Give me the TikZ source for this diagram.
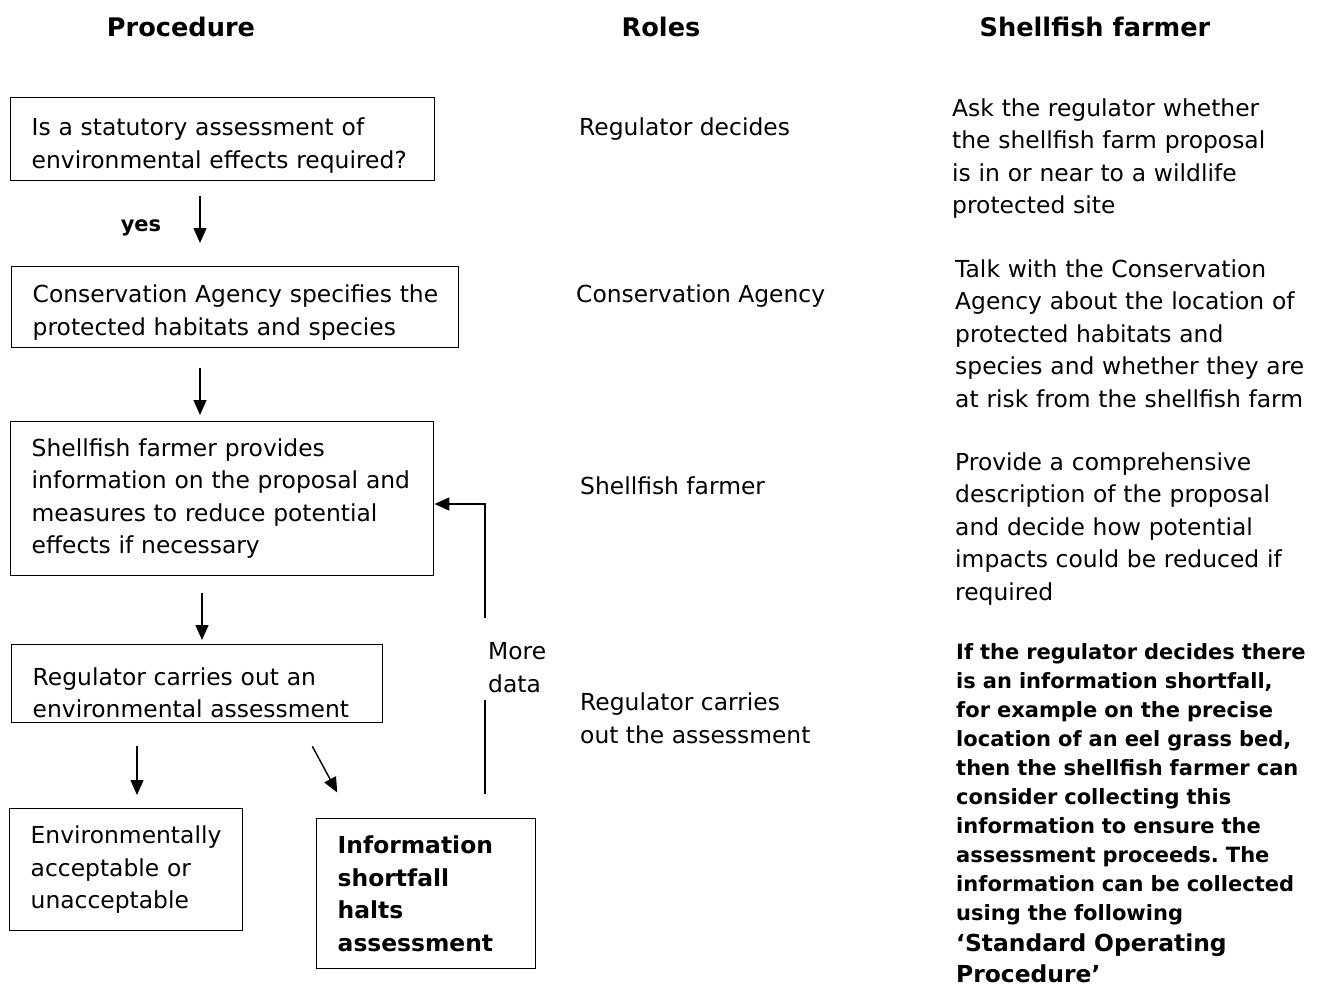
\documentclass[tikz,border=0pt]{standalone}
\usepackage{fontspec}
\setmainfont{DejaVu Sans}
\usetikzlibrary{arrows.meta}
\frenchspacing
\newcommand{\bodysize}{\fontsize{23.4}{32.5}\selectfont}
\newcommand{\notesize}{\fontsize{21}{29}\selectfont}
\newcommand{\headsize}{\fontsize{25.6}{30}\selectfont}
\newcommand{\padtop}[1]{\rule{0pt}{#1}}

\begin{document}
\begin{tikzpicture}[x=1pt, y=-1pt,
    procbox/.style 2 args={draw, line width=1.4pt, anchor=north west, align=left,
        inner xsep=21pt, inner ysep=0pt, font=\bodysize, text width=#1, minimum height=#2},
    head/.style={anchor=base, font=\headsize\bfseries},
    role/.style={anchor=base west, align=left, font=\bodysize, inner sep=0pt},
    note/.style={anchor=base west, align=left, text width=368pt, inner sep=0pt},
    arr/.style={line width=1.4pt, -{Triangle[length=15pt, width=13pt]}}]

    \useasboundingbox (0,0) rectangle (1324,986);

    % Column headings
    \node[head] (hProc) at (181,36) {Procedure};
    \node[head] (hRole) at (661,36) {Roles};
    \node[head] (hFarm) at (1095,36) {Shellfish farmer};

    % Procedure boxes
    \node[procbox={382pt}{83pt}] (isreq) at (10,97)
        {\padtop{30pt}Is a statutory assessment of\\environmental effects required?};
    \node[procbox={405pt}{81pt}] (agency) at (11,266)
        {\padtop{28pt}\mbox{Conservation Agency specifies the}\\protected habitats and species};
    \node[procbox={381pt}{154pt}] (provide) at (10,421)
        {Shellfish farmer provides\\information on the proposal and\\measures to reduce potential\\effects if necessary};
    \node[procbox={329pt}{78pt}] (assess) at (11,644)
        {\padtop{36pt}Regulator carries out an\\environmental assessment};
    \node[procbox={191pt}{122pt}] (accept) at (9,808)
        {Environmentally\\acceptable or\\unacceptable};
    \node[procbox={177pt}{150pt}, font=\bodysize\bfseries] (short) at (316,818)
        {Information\\shortfall\\halts\\assessment};

    % Arrows between the boxes
    \draw[arr, shorten <=15pt, shorten >=23pt] (isreq.south -| 200,0) -- (agency.north -| 200,0);
    \node[anchor=base, font=\notesize\bfseries] (yes) at (141,231) {yes};
    \draw[arr, shorten <=20pt, shorten >=6pt] (agency.south -| 200,0) -- (provide.north -| 200,0);
    \draw[arr, shorten <=17pt, shorten >=4pt] (provide.south -| 202,0) -- (assess.north -| 202,0);
    \draw[arr, shorten <=23pt, shorten >=13pt] (assess.south -| 137,0) -- (accept.north -| 137,0);
    \draw[arr, shorten <=26pt, shorten >=29pt] (assess.south -| 300,0) -- (short.north -| 351,0);

    % Feedback loop for more data
    \coordinate (fbBot) at (485,794);
    \coordinate (gapLo) at (485,700);
    \coordinate (gapHi) at (485,618);
    \node[role] (more) at (488,692) {More\\data};
    \draw[line width=1.4pt] (fbBot) -- (gapLo);
    \draw[arr] (gapHi) |- (provide.east |- 0,504);

    % Roles
    \node[role] (rDecide) at (579,135) {Regulator decides};
    \node[role] (rAgency) at (576,302) {Conservation Agency};
    \node[role] (rFarmer) at (580,494) {Shellfish farmer};
    \node[role] (rAssess) at (580,743) {Regulator carries\\out the assessment};

    % What the shellfish farmer does
    \node[note, font=\bodysize] (fAsk) at (952,116)
        {Ask the regulator whether\\the shellfish farm proposal\\is in or near to a wildlife\\protected site};
    \node[note, font=\bodysize] (fTalk) at (955,277)
        {Talk with the Conservation\\Agency about the location of\\protected habitats and\\species and whether they are\\at risk from the shellfish farm};
    \node[note, font=\bodysize] (fDescr) at (955,470)
        {Provide a comprehensive\\description of the proposal\\and decide how potential\\impacts could be reduced if\\required};
    \node[note, font=\notesize\bfseries] (fShort) at (956,659)
        {If the regulator decides there\\is an information shortfall,\\for example on the precise\\location of an eel grass bed,\\then the shellfish farmer can\\consider collecting this\\information to ensure the\\assessment proceeds. The\\information can be collected\\using the following};
    \node[note, font=\fontsize{23.4}{31}\selectfont\bfseries] (fSop) at (956,951)
        {`Standard Operating\\Procedure'};

\end{tikzpicture}
\end{document}
